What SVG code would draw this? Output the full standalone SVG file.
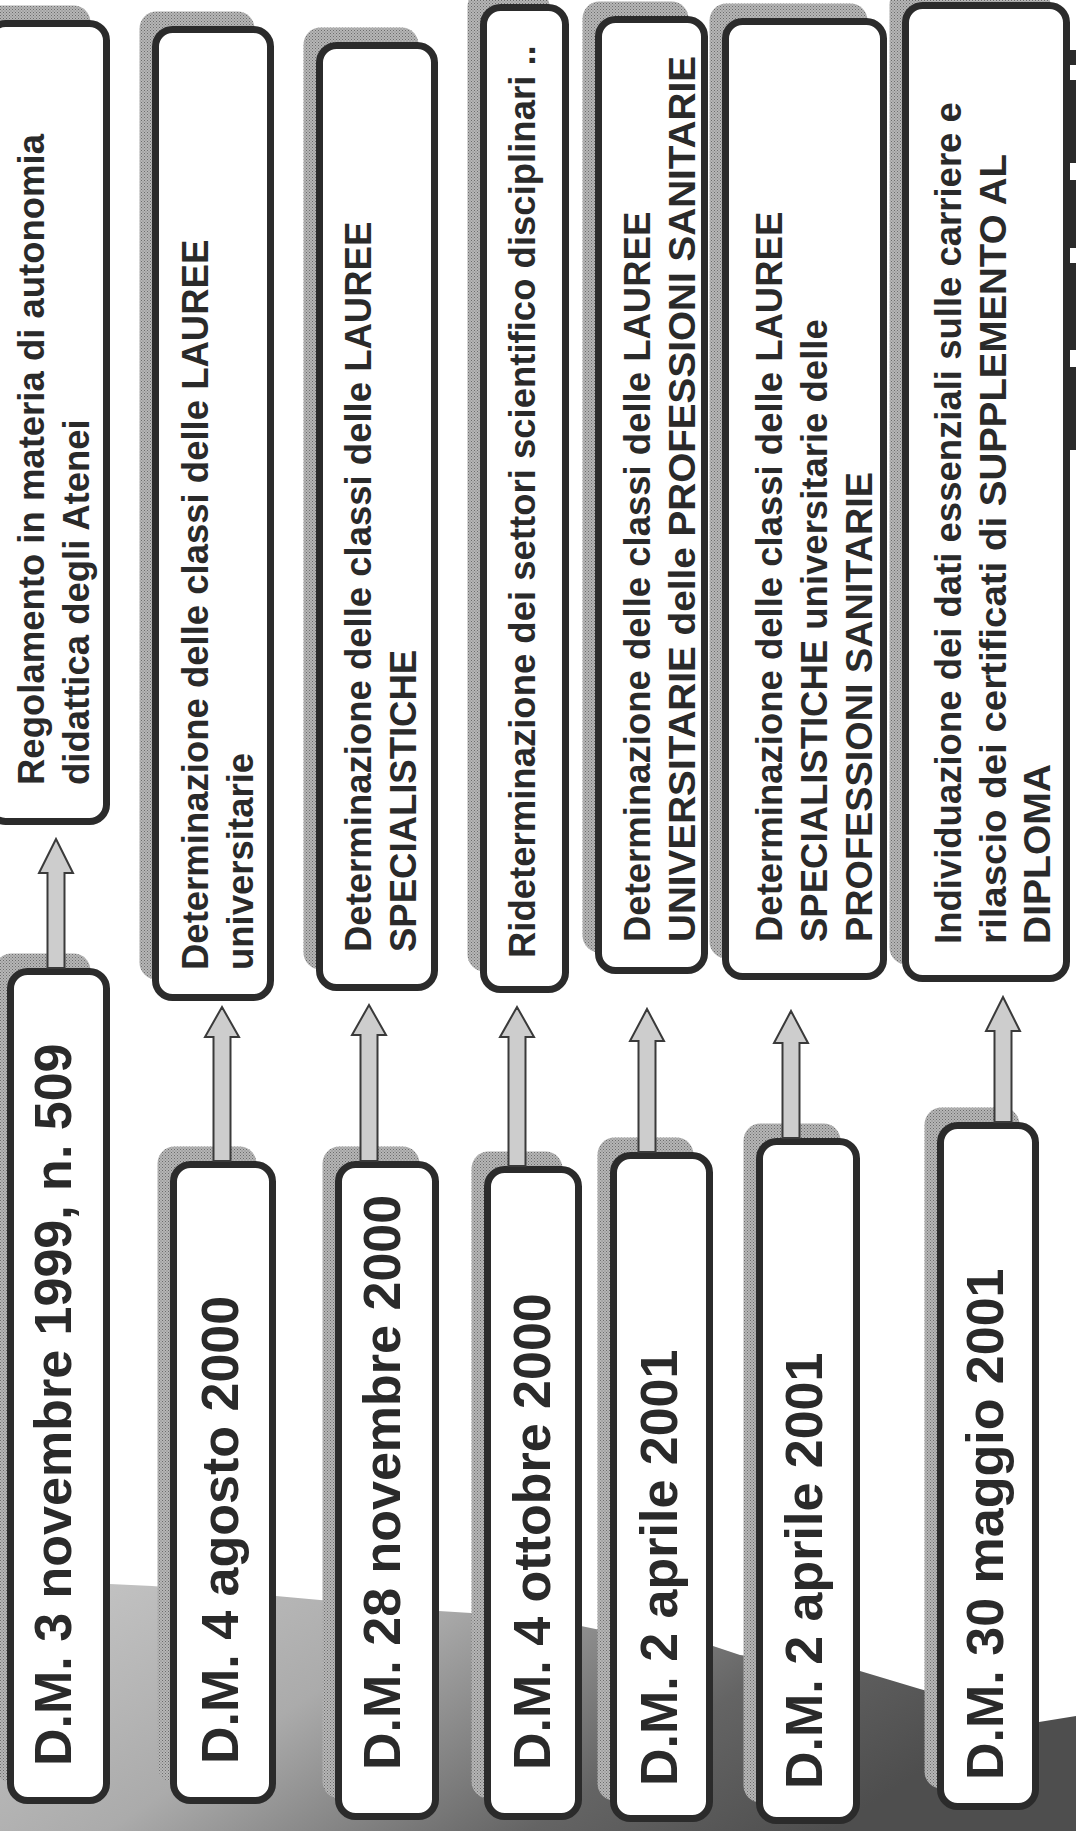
<svg xmlns="http://www.w3.org/2000/svg" width="1076" height="1831" viewBox="0 0 1076 1831">
<defs>
<pattern id="ht" width="3" height="3" patternUnits="userSpaceOnUse"><rect width="3" height="3" fill="#b6b6b6"/><rect width="1" height="1" fill="#6c6c6c"/><rect x="1.5" y="1.5" width="1" height="1" fill="#7c7c7c"/></pattern>
<linearGradient id="bg" x1="0" y1="0" x2="1" y2="0.35">
<stop offset="0" stop-color="#c8c8c8"/><stop offset="0.4" stop-color="#ababab"/><stop offset="0.55" stop-color="#8c8c8c"/><stop offset="0.75" stop-color="#646464"/><stop offset="1" stop-color="#4e4e4e"/>
</linearGradient>
</defs>
<style>
.box{fill:#ffffff;stroke:#2b2b2b;stroke-width:7}
.sh{fill:url(#ht)}
.arr{fill:#cdcdcd;stroke:#3a3a3a;stroke-width:2;stroke-linejoin:miter}
.d{font-family:"Liberation Sans",Arial,sans-serif;font-weight:bold;font-size:36.5px;fill:#2a2a2a}
.dm{font-family:"Liberation Sans",Arial,sans-serif;font-weight:bold;font-size:52px;fill:#2a2a2a}
</style>
<g id="background">
<rect width="1076" height="1831" fill="#ffffff"/>
<path d="M0,1580 L110,1584 L152,1586 L276,1596 L320,1600 L439,1611 L487,1614 L581,1626 L610,1632 L713,1646 L740,1655 L860,1671 L920,1689 L1039,1722 L1076,1716 L1076,1831 L0,1831 Z" fill="url(#bg)"/>
<rect x="1070" y="50" width="6" height="15" fill="#2b2b2b"/>
<rect x="1070" y="80" width="6" height="83" fill="#2b2b2b"/>
<rect x="1070" y="180" width="6" height="68" fill="#2b2b2b"/>
<rect x="1070" y="263" width="6" height="87" fill="#2b2b2b"/>
<rect x="1070" y="367" width="6" height="83" fill="#2b2b2b"/>
</g>

<g id="desc1"><rect class="sh" x="-27.5" y="5.5" width="118" height="798" rx="17"/><rect class="box" x="-11.5" y="23.5" width="118" height="798" rx="17"/>
<text class="d" transform="translate(44,785) rotate(-90)">Regolamento in materia di autonomia</text>
<text class="d" transform="translate(89,785) rotate(-90)">didattica degli Atenei</text></g>

<g id="desc2"><rect class="sh" x="139.5" y="11.5" width="115" height="968" rx="17"/><rect class="box" x="155.5" y="29.5" width="115" height="968" rx="17"/>
<text class="d" transform="translate(208,970) rotate(-90)">Determinazione delle classi delle LAUREE</text>
<text class="d" transform="translate(253,970) rotate(-90)">universitarie</text></g>

<g id="desc3"><rect class="sh" x="303.5" y="27.5" width="115" height="942" rx="17"/><rect class="box" x="319.5" y="45.5" width="115" height="942" rx="17"/>
<text class="d" transform="translate(371,952) rotate(-90)">Determinazione delle classi delle LAUREE</text>
<text class="d" transform="translate(416,952) rotate(-90)">SPECIALISTICHE</text></g>

<g id="desc4"><rect class="sh" x="467.5" y="-10.5" width="82" height="982" rx="17"/><rect class="box" x="483.5" y="7.5" width="82" height="982" rx="17"/>
<text class="d" transform="translate(535,958) rotate(-90)">Rideterminazione dei settori scientifico disciplinari ..</text></g>

<g id="desc5"><rect class="sh" x="582.5" y="1.5" width="106" height="951" rx="17"/><rect class="box" x="598.5" y="19.5" width="106" height="951" rx="17"/>
<text class="d" transform="translate(650,942) rotate(-90)">Determinazione delle classi delle LAUREE</text>
<text class="d" transform="translate(695,942) rotate(-90)" textLength="886" lengthAdjust="spacingAndGlyphs">UNIVERSITARIE delle PROFESSIONI SANITARIE</text></g>

<g id="desc6"><rect class="sh" x="709.5" y="3.5" width="158" height="955" rx="17"/><rect class="box" x="725.5" y="21.5" width="158" height="955" rx="17"/>
<text class="d" transform="translate(782,942) rotate(-90)">Determinazione delle classi delle LAUREE</text>
<text class="d" transform="translate(827,942) rotate(-90)">SPECIALISTICHE universitarie delle</text>
<text class="d" transform="translate(872,942) rotate(-90)" textLength="470" lengthAdjust="spacingAndGlyphs">PROFESSIONI SANITARIE</text></g>

<g id="desc7"><rect class="sh" x="889.5" y="-12.5" width="161" height="977" rx="17"/><rect class="box" x="905.5" y="5.5" width="161" height="973" rx="17"/>
<text class="d" transform="translate(961,944) rotate(-90)">Individuazione dei dati essenziali sulle carriere e</text>
<text class="d" transform="translate(1006,944) rotate(-90)" textLength="790" lengthAdjust="spacingAndGlyphs">rilascio dei certificati di  SUPPLEMENTO AL</text>
<text class="d" transform="translate(1050,944) rotate(-90)" textLength="180" lengthAdjust="spacingAndGlyphs">DIPLOMA</text></g>

<g id="dm1"><rect class="sh" x="-5.5" y="953.5" width="96" height="829" rx="17"/><rect class="box" x="10.5" y="971.5" width="96" height="829" rx="17"/>
<text class="dm" transform="translate(71,1766) rotate(-90)">D.M. 3 novembre 1999, n. 509</text></g>

<g id="dm2"><rect class="sh" x="157.5" y="1146.5" width="99" height="636" rx="17"/><rect class="box" x="173.5" y="1164.5" width="99" height="636" rx="17"/>
<text class="dm" transform="translate(238,1764) rotate(-90)">D.M. 4 agosto 2000</text></g>

<g id="dm3"><rect class="sh" x="322.5" y="1146.5" width="97" height="652" rx="17"/><rect class="box" x="338.5" y="1164.5" width="97" height="652" rx="17"/>
<text class="dm" transform="translate(400,1770) rotate(-90)">D.M. 28 novembre 2000</text></g>

<g id="dm4"><rect class="sh" x="471.5" y="1151.5" width="91" height="647" rx="17"/><rect class="box" x="487.5" y="1169.5" width="91" height="647" rx="17"/>
<text class="dm" transform="translate(550,1770) rotate(-90)">D.M. 4 ottobre 2000</text></g>

<g id="dm5"><rect class="sh" x="597.5" y="1137.5" width="96" height="663" rx="17"/><rect class="box" x="613.5" y="1155.5" width="96" height="663" rx="17"/>
<text class="dm" transform="translate(677,1786) rotate(-90)">D.M. 2 aprile 2001</text></g>

<g id="dm6"><rect class="sh" x="743.5" y="1123.5" width="97" height="679" rx="17"/><rect class="box" x="759.5" y="1141.5" width="97" height="679" rx="17"/>
<text class="dm" transform="translate(822,1789) rotate(-90)">D.M. 2 aprile 2001</text></g>

<g id="dm7"><rect class="sh" x="924.5" y="1107.5" width="95" height="681" rx="17"/><rect class="box" x="940.5" y="1125.5" width="95" height="681" rx="17"/>
<text class="dm" transform="translate(1003,1780) rotate(-90)">D.M. 30 maggio 2001</text></g>

<g id="connectors">
<path class="arr" d="M56,839 L73,873 L64.5,873 L64.5,968 L47.5,968 L47.5,873 L39,873 Z"/>
<path class="arr" d="M222,1007 L239,1037 L230.5,1037 L230.5,1161 L213.5,1161 L213.5,1037 L205,1037 Z"/>
<path class="arr" d="M369,1005 L386,1035 L377.5,1035 L377.5,1161 L360.5,1161 L360.5,1035 L352,1035 Z"/>
<path class="arr" d="M517,1007 L534,1037 L525.5,1037 L525.5,1166 L508.5,1166 L508.5,1037 L500,1037 Z"/>
<path class="arr" d="M647,1009 L664,1041 L655.5,1041 L655.5,1152 L638.5,1152 L638.5,1041 L630,1041 Z"/>
<path class="arr" d="M791,1011 L808,1043 L799.5,1043 L799.5,1138 L782.5,1138 L782.5,1043 L774,1043 Z"/>
<path class="arr" d="M1003,997 L1020,1031 L1011.5,1031 L1011.5,1122 L994.5,1122 L994.5,1031 L986,1031 Z"/>
</g>
</svg>
